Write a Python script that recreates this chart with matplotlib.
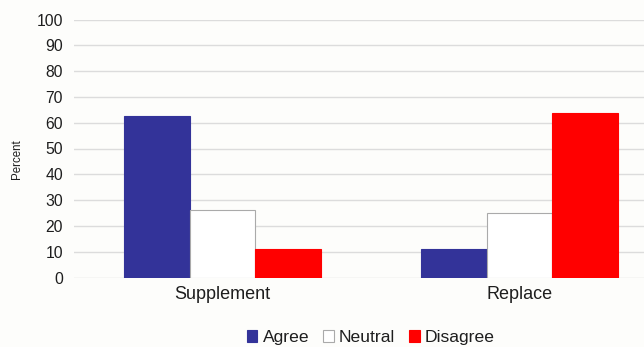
import numpy as np
import matplotlib
matplotlib.use("Agg")
import matplotlib.pyplot as plt

plt.rcParams['font.family'] = ['Liberation Sans', 'DejaVu Sans']

# survey responses, percent
categories = ['Supplement', 'Replace']
series = ['Agree', 'Neutral', 'Disagree']
agree = [62.7, 10.9]
neutral = [26.2, 25.1]
disagree = [10.9, 63.9]

colors = ['#333399', '#ffffff', '#ff0000']
edges = ['#333399', '#aaaaaa', '#ff0000']

fig = plt.figure(figsize=(6.44, 3.47), dpi=100)
fig.patch.set_facecolor('#fdfdfb')
ax = fig.add_axes([74 / 644, 69.5 / 347, 594 / 644, 258 / 347])
ax.set_facecolor('#fdfdfb')

x = np.arange(len(categories))
w = 0.222
for i, (vals, name) in enumerate(zip([agree, neutral, disagree], series)):
    ax.bar(x + (i - 1) * w, vals, w, color=colors[i], edgecolor=edges[i],
           linewidth=0.8, label=name, zorder=3)

ax.set_xlim(-0.5, 1.5)
ax.set_ylim(0, 100)
ax.set_yticks(range(0, 101, 10))
ax.set_xticks(x)
ax.set_xticklabels(categories)
ax.grid(axis='y', color='#dcdcdc', linewidth=1, zorder=0)
for s in ax.spines.values():
    s.set_visible(False)
ax.tick_params(axis='y', length=0, pad=8, labelsize=11.3, labelcolor='#1e1e1e')
ax.tick_params(axis='x', length=0, pad=6, labelsize=13, labelcolor='#1e1e1e')
ax.set_ylabel('Percent', fontsize=8.3, color='#1e1e1e')
ax.yaxis.set_label_coords(-0.086, 0.46)

ax.legend(loc='center', bbox_to_anchor=(0.5, -0.232), ncol=3, frameon=False,
          handlelength=0.6, handleheight=0.75, handletextpad=0.3,
          columnspacing=0.8, fontsize=12.6, labelcolor='#1e1e1e')

fig.savefig('out.png', dpi=100, facecolor=fig.get_facecolor())
